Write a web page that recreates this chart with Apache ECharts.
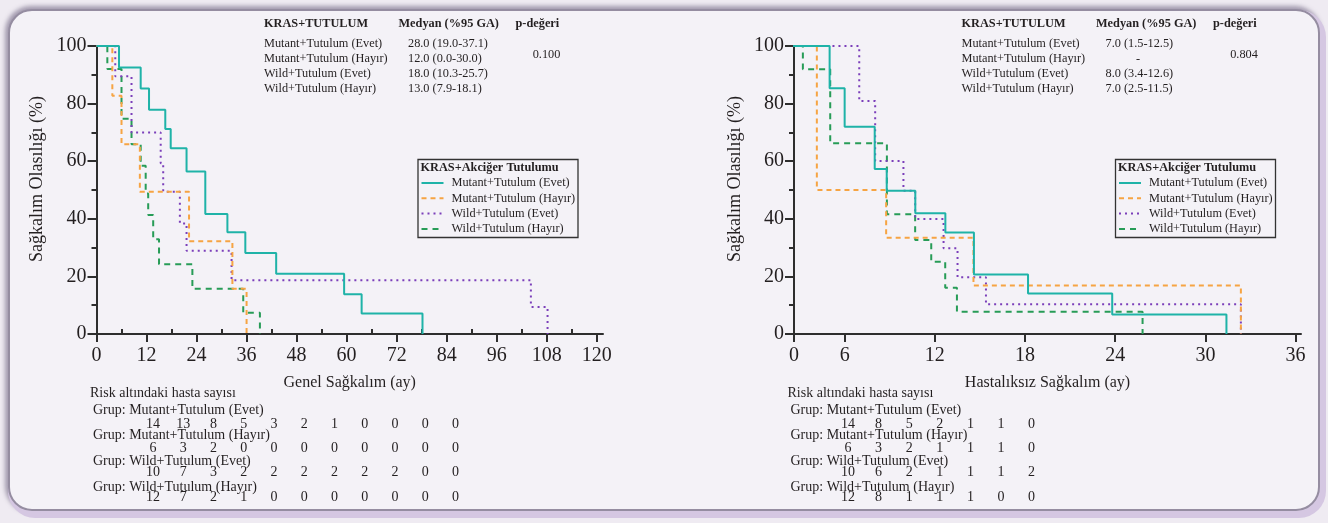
<!DOCTYPE html>
<html>
<head>
<meta charset="utf-8">
<script src="https://cdn.jsdelivr.net/npm/echarts@6/dist/echarts.min.js"></script>
<style>
html,body{margin:0;padding:0;width:1328px;height:523px;overflow:hidden;background:#efebf2;}
#panel{position:absolute;left:8px;top:9px;width:1312px;height:502px;box-sizing:border-box;border-radius:24px;background:#f4f2f7;border:2px solid #958da1;box-shadow:3px 4px 0 3px #d5c7e2,-1px -1px 4px 2px rgba(130,120,145,0.7);}
#chart{position:absolute;left:0;top:0;width:1328px;height:523px;}
</style>
</head>
<body>
<div id="panel"></div>
<div id="chart"></div>
<script>
// ---------------- DATA ----------------
const groupNames = ['Mutant+Tutulum (Evet)', 'Mutant+Tutulum (Hayır)', 'Wild+Tutulum (Evet)', 'Wild+Tutulum (Hayır)'];
const legendTitle = 'KRAS+Akciğer Tutulumu';
const headerCols = ['KRAS+TUTULUM', 'Medyan (%95 GA)', 'p-değeri'];
const riskTitle = 'Risk altındaki hasta sayısı';

// Genel Sağkalım (OS) – Kaplan-Meier steps (time in months, survival %)
const osMutEvetT  = [0, 5.4, 10.6, 12.6, 16.5, 17.8, 21.6, 26.1, 31.4, 35.7, 43.1, 59.4, 63.6, 78.2];
const osMutEvetS  = [100, 92.5, 85.2, 77.9, 71.2, 64.5, 56.4, 41.7, 35.3, 28.1, 20.9, 13.8, 7.1, 0];
const osMutHayT   = [0, 3.8, 6.0, 10.4, 22.2, 32.6, 36.0];
const osMutHayS   = [100, 82.7, 65.9, 49.4, 32.2, 15.7, 0];
const osWildEvetT = [0, 4.5, 8.4, 15.4, 16.0, 20.0, 21.6, 32.4, 104.2, 108.2];
const osWildEvetS = [100, 89.5, 70.0, 59.3, 49.4, 38.4, 28.9, 18.7, 9.4, 0];
const osWildHayT  = [0, 2.6, 6.0, 8.4, 10.6, 11.8, 12.4, 13.6, 15.0, 23.0, 35.2, 39.2];
const osWildHayS  = [100, 92.0, 74.7, 65.9, 58.4, 48.8, 41.3, 32.9, 24.2, 15.7, 7.4, 0];

// Hastalıksız Sağkalım (DFS)
const dfsMutEvetT  = [0, 5.0, 6.0, 8.0, 8.8, 10.7, 12.7, 14.6, 18.2, 23.8, 31.4];
const dfsMutEvetS  = [100, 85.3, 72.0, 57.3, 49.7, 41.9, 35.2, 20.7, 14.1, 6.8, 0];
const dfsMutHayT   = [0, 4.15, 8.76, 14.57, 32.36];
const dfsMutHayS   = [100, 50.0, 33.4, 16.8, 0];
const dfsWildEvetT = [0, 6.97, 8.03, 9.91, 10.69, 12.58, 13.51, 15.4, 32.36];
const dfsWildEvetS = [100, 80.9, 60.1, 49.7, 39.9, 29.8, 19.7, 10.3, 0];
const dfsWildHayT  = [0, 3.22, 5.04, 8.81, 10.69, 11.76, 12.69, 13.47, 25.82];
const dfsWildHayS  = [100, 91.9, 66.2, 41.6, 32.6, 25.1, 16.1, 7.7, 0];

// Medians and p-values
const osMedians  = ['28.0 (19.0-37.1)', '12.0 (0.0-30.0)', '18.0 (10.3-25.7)', '13.0 (7.9-18.1)'];
const osP = '0.100';
const dfsMedians = ['7.0 (1.5-12.5)', '-', '8.0 (3.4-12.6)', '7.0 (2.5-11.5)'];
const dfsP = '0.804';

// Numbers at risk
const osRisk = [
  [14, 13, 8, 5, 3, 2, 1, 0, 0, 0, 0],
  [6, 3, 2, 0, 0, 0, 0, 0, 0, 0, 0],
  [10, 7, 3, 2, 2, 2, 2, 2, 2, 0, 0],
  [12, 7, 2, 1, 0, 0, 0, 0, 0, 0, 0]
];
const dfsRisk = [
  [14, 8, 5, 2, 1, 1, 0],
  [6, 3, 2, 1, 1, 1, 0],
  [10, 6, 2, 1, 1, 1, 2],
  [12, 8, 1, 1, 1, 0, 0]
];

// Axis ticks / labels
const osXTicks = [0, 12, 24, 36, 48, 60, 72, 84, 96, 108, 120];
const osXMinorTicks = [6, 18, 30, 42, 54, 66, 78, 90, 102, 114];
const dfsXTicks = [0, 6, 12, 18, 24, 30, 36];
const osXName = 'Genel Sağkalım (ay)';
const dfsXName = 'Hastalıksız Sağkalım (ay)';
const yName = 'Sağkalım Olasılığı (%)';

// ---------------- STYLE ----------------
const FONT = '"Liberation Serif", "Times New Roman", serif';
const TXT = '#231f20';
const AXC = '#2e2e2e';
const colors = ['#1fb3a8', '#f6a443', '#7b3fba', '#279c57'];
const dashes = ['solid', [5, 4], [2, 4], [6, 5]];
const OS_MAX = 121.5;
const DFS_MIN = 2.63, DFS_MAX = 36.36;

const zip = (t, s) => t.map((v, i) => [v, s[i]]);
const osCurves = [zip(osMutEvetT, osMutEvetS), zip(osMutHayT, osMutHayS), zip(osWildEvetT, osWildEvetS), zip(osWildHayT, osWildHayS)];
const dfsCurves = [zip(dfsMutEvetT, dfsMutEvetS), zip(dfsMutHayT, dfsMutHayS), zip(dfsWildEvetT, dfsWildEvetS), zip(dfsWildHayT, dfsWildHayS)];

const panels = [
  { ax: 96.5, width: 506.5, medians: osMedians, p: osP, risk: osRisk, riskStart: 153, riskStep: 30.25 },
  { ax: 794, width: 507, medians: dfsMedians, p: dfsP, risk: dfsRisk, riskStart: 848, riskStep: 30.6 }
];

function txt(x, y, text, opt) {
  opt = opt || {};
  const align = opt.align || 'left';
  return {
    type: 'text', silent: true,
    style: {
      x: x, y: y, text: text,
      fill: opt.color || TXT,
      fontSize: opt.size || 12.3,
      fontFamily: FONT,
      fontWeight: opt.bold ? 'bold' : 'normal',
      align: align, textAlign: align,
      verticalAlign: 'middle', textVerticalAlign: 'middle'
    }
  };
}

const graphics = [];
panels.forEach(function (pn) {
  const ax = pn.ax;
  // header table
  graphics.push(txt(ax + 167.5, 24, headerCols[0], { bold: true }));
  graphics.push(txt(ax + 302, 24, headerCols[1], { bold: true }));
  graphics.push(txt(ax + 419, 24, headerCols[2], { bold: true }));
  groupNames.forEach(function (g, i) {
    const y = 43.3 + i * 15.2;
    graphics.push(txt(ax + 167.5, y, g));
    const m = pn.medians[i];
    if (m === '-') graphics.push(txt(ax + 344, y, m, { align: 'center' }));
    else graphics.push(txt(ax + 311.5, y, m));
  });
  graphics.push(txt(ax + 450, 55, pn.p, { align: 'center' }));

  // legend
  graphics.push({
    type: 'rect', silent: true,
    shape: { x: ax + 321.5, y: 159.5, width: 160, height: 78 },
    style: { fill: 'rgba(0,0,0,0)', stroke: '#333', lineWidth: 1.3 }
  });
  graphics.push(txt(ax + 324, 168, legendTitle, { bold: true }));
  groupNames.forEach(function (g, i) {
    const y = 183 + i * 15.3;
    graphics.push({
      type: 'line', silent: true,
      shape: { x1: ax + 325, y1: y, x2: ax + 347, y2: y },
      style: { stroke: colors[i], lineWidth: 2, lineDash: dashes[i] === 'solid' ? null : dashes[i] }
    });
    graphics.push(txt(ax + 355, y, g));
  });

  // risk table
  graphics.push(txt(ax - 6.5, 393, riskTitle, { size: 14 }));
  groupNames.forEach(function (g, i) {
    graphics.push(txt(ax - 3.5, 410 + i * 25.7, 'Grup: ' + g, { size: 14 }));
    pn.risk[i].forEach(function (n, j) {
      graphics.push(txt(pn.riskStart + j * pn.riskStep, 424 + i * 24.4, String(n), { size: 14, align: 'center' }));
    });
  });
});

function yAxisCfg(grid) {
  return {
    type: 'value', gridIndex: grid, min: 0, max: 100, interval: 20,
    name: yName, nameLocation: 'middle', nameGap: 50, nameRotate: 90,
    nameTextStyle: { fontFamily: FONT, fontSize: 18, color: TXT, padding: [0, 0, 0, 22] },
    axisLine: { show: true, lineStyle: { color: AXC, width: 2 } },
    axisTick: { show: true, length: 9, lineStyle: { color: AXC, width: 2 } },
    minorTick: { show: true, splitNumber: 2, length: 5, lineStyle: { color: AXC, width: 2 } },
    axisLabel: { fontFamily: FONT, fontSize: 20, color: TXT, margin: 10 },
    splitLine: { show: false }, minorSplitLine: { show: false }
  };
}

const dfsTickPos = dfsXTicks.map(function (v) { return Math.max(v, DFS_MIN); });

const option = {
  backgroundColor: 'transparent',
  animation: false,
  grid: [
    { left: panels[0].ax, top: 46, width: panels[0].width, height: 288 },
    { left: panels[1].ax, top: 46, width: panels[1].width, height: 288 }
  ],
  xAxis: [
    {
      type: 'value', gridIndex: 0, min: 0, max: OS_MAX,
      name: osXName, nameLocation: 'middle', nameGap: 41,
      nameTextStyle: { fontFamily: FONT, fontSize: 16, color: TXT },
      axisLine: { onZero: false, lineStyle: { color: AXC, width: 2 } },
      axisTick: { length: 8, customValues: osXTicks, lineStyle: { color: AXC, width: 2 } },
      axisLabel: { customValues: osXTicks, fontFamily: FONT, fontSize: 20, color: TXT, margin: 12 },
      splitLine: { show: false }
    },
    {
      type: 'value', gridIndex: 0, min: 0, max: OS_MAX,
      axisLine: { show: false },
      axisTick: { show: true, length: 5, customValues: osXMinorTicks, lineStyle: { color: AXC, width: 2 } },
      axisLabel: { show: false },
      splitLine: { show: false }
    },
    {
      type: 'value', gridIndex: 1, min: DFS_MIN, max: DFS_MAX,
      name: dfsXName, nameLocation: 'middle', nameGap: 41,
      nameTextStyle: { fontFamily: FONT, fontSize: 16, color: TXT },
      axisLine: { onZero: false, lineStyle: { color: AXC, width: 2 } },
      axisTick: { length: 8, customValues: dfsTickPos, lineStyle: { color: AXC, width: 2 } },
      axisLabel: {
        customValues: dfsTickPos, fontFamily: FONT, fontSize: 20, color: TXT, margin: 12,
        formatter: function (v) { const i = dfsTickPos.indexOf(v); return i >= 0 ? String(dfsXTicks[i]) : ''; }
      },
      splitLine: { show: false }
    }
  ],
  yAxis: [yAxisCfg(0), yAxisCfg(1)],
  graphic: graphics,
  series: []
};

osCurves.forEach(function (d, i) {
  option.series.push({
    type: 'line', name: groupNames[i], xAxisIndex: 0, yAxisIndex: 0, step: 'end',
    data: d, symbol: 'none', silent: true, z: 5 - i,
    lineStyle: { color: colors[i], width: 2, type: dashes[i] }
  });
});
dfsCurves.forEach(function (d, i) {
  option.series.push({
    type: 'line', name: groupNames[i], xAxisIndex: 2, yAxisIndex: 1, step: 'end',
    data: d, symbol: 'none', silent: true, z: 5 - i,
    lineStyle: { color: colors[i], width: 2, type: dashes[i] }
  });
});

const chart = echarts.init(document.getElementById('chart'), null, { renderer: 'canvas' });
chart.setOption(option);
</script>
</body>
</html>
